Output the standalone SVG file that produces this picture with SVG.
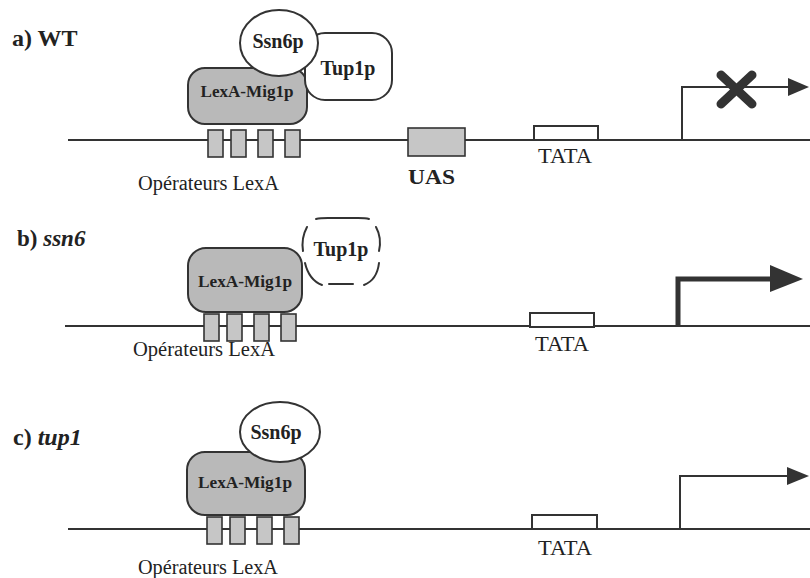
<svg xmlns="http://www.w3.org/2000/svg" width="810" height="578" viewBox="0 0 810 578">
<style>
text{font-family:"Liberation Serif","Times New Roman",serif;fill:#222}
.lbl{font-weight:bold;font-size:24px}
.it{font-style:italic}
.prot{font-weight:bold;font-size:20px;text-anchor:middle}
.lex{font-weight:bold;font-size:16px;text-anchor:middle}
.op{font-size:20px}
.tata{font-size:20px}
.dna{stroke:#333;stroke-width:2;fill:none}
.gray{fill:#b9b9b9;stroke:#333;stroke-width:2}
.opbox{fill:#c6c6c6;stroke:#333;stroke-width:1.6}
.white{fill:#fff;stroke:#333;stroke-width:2}
.dash{fill:none;stroke:#333;stroke-width:2;stroke-linecap:round}
.arr{fill:none;stroke:#333;stroke-width:2}
.arrh{fill:#333;stroke:none}
</style>
<rect width="810" height="578" fill="#fff"/>
<defs>
<g id="ops">
<rect x="0" y="0" width="15" height="27" class="opbox"/>
<rect x="23" y="0" width="15" height="27" class="opbox"/>
<rect x="50" y="0" width="15" height="27" class="opbox"/>
<rect x="77" y="0" width="15" height="27" class="opbox"/>
</g>
</defs>

<!-- Panel a -->
<g id="panel-a">
<text x="12" y="46" class="lbl">a) WT</text>
<g id="connectors-a">
<line x1="68" y1="140" x2="810" y2="140" class="dna"/>
<path d="M682,140 V87 H790" class="arr"/>
<polygon points="788,78 809,87 788,96" class="arrh"/>
<path d="M721,75 L752,104 M752,75 L721,104" stroke="#333" stroke-width="9" stroke-linecap="round"/>
</g>
<g id="a-lexa">
<rect x="188" y="68" width="119" height="56" rx="17" class="gray"/>
<text x="247" y="97" class="lex" textLength="93" lengthAdjust="spacingAndGlyphs">LexA-Mig1p</text>
</g>
<g id="a-tup1p">
<rect x="305" y="33" width="87" height="67" rx="20" class="white"/>
<text x="348" y="75" class="prot">Tup1p</text>
</g>
<g id="a-ssn6p">
<ellipse cx="279" cy="43" rx="39" ry="33" class="white"/>
<text x="278" y="48" class="prot">Ssn6p</text>
</g>
<g id="a-operators">
<use href="#ops" x="208" y="130"/>
<text x="138" y="190" class="op" textLength="141" lengthAdjust="spacingAndGlyphs">Opérateurs LexA</text>
</g>
<g id="a-uas">
<rect x="408" y="128" width="57" height="28" class="opbox"/>
<text x="408" y="184" style="font-weight:bold;font-size:21px" textLength="47" lengthAdjust="spacingAndGlyphs">UAS</text>
</g>
<g id="a-tata">
<rect x="534" y="126" width="64" height="14" class="white"/>
<text x="538" y="163" class="tata" textLength="54" lengthAdjust="spacingAndGlyphs">TATA</text>
</g>
</g>

<!-- Panel b -->
<g id="panel-b">
<text x="17" y="246" class="lbl" style="font-size:23px">b) <tspan class="it">ssn6</tspan></text>
<g id="connectors-b">
<line x1="65" y1="326" x2="810" y2="326" class="dna"/>
<path d="M678,326 V279 H772" fill="none" stroke="#333" stroke-width="5"/>
<polygon points="770,265 803,279 770,292" class="arrh"/>
</g>
<g id="b-tup1p">
<path d="M316,219 Q320,218 328,218 L358,218 Q366,218 369,219" class="dash"/>
<path d="M307,227 Q301,238 303,251" class="dash"/>
<path d="M305,263 Q309,280 322,285" class="dash"/>
<path d="M329,284 L353,284" class="dash"/>
<path d="M376,227 Q382,238 379,251" class="dash"/>
<path d="M379,263 Q377,280 364,285" class="dash"/>
<text x="341" y="256" class="prot">Tup1p</text>
</g>
<g id="b-lexa">
<rect x="188" y="248" width="114" height="64" rx="18" class="gray"/>
<text x="245" y="287" class="lex" textLength="94" lengthAdjust="spacingAndGlyphs">LexA-Mig1p</text>
</g>
<g id="b-operators">
<use href="#ops" x="204" y="314"/>
<text x="133" y="356" class="op" textLength="142" lengthAdjust="spacingAndGlyphs">Opérateurs LexA</text>
</g>
<g id="b-tata">
<rect x="530" y="313" width="64" height="14" class="white"/>
<text x="535" y="351" class="tata" textLength="54" lengthAdjust="spacingAndGlyphs">TATA</text>
</g>
</g>

<!-- Panel c -->
<g id="panel-c">
<text x="13" y="445" class="lbl">c) <tspan class="it">tup1</tspan></text>
<g id="connectors-c">
<line x1="68" y1="529" x2="810" y2="529" class="dna"/>
<path d="M680,529 V476 H789" class="arr"/>
<polygon points="787,467 809,476 787,485" class="arrh"/>
</g>
<g id="c-lexa">
<rect x="187" y="452" width="118" height="63" rx="18" class="gray"/>
<text x="245" y="488" class="lex" textLength="94" lengthAdjust="spacingAndGlyphs">LexA-Mig1p</text>
</g>
<g id="c-ssn6p">
<ellipse cx="280" cy="432" rx="40" ry="30" class="white"/>
<text x="276" y="439" class="prot">Ssn6p</text>
</g>
<g id="c-operators">
<use href="#ops" x="207" y="517"/>
<text x="138" y="574" class="op" textLength="140" lengthAdjust="spacingAndGlyphs">Opérateurs LexA</text>
</g>
<g id="c-tata">
<rect x="532" y="515" width="65" height="14" class="white"/>
<text x="538" y="555" class="tata" textLength="54" lengthAdjust="spacingAndGlyphs">TATA</text>
</g>
</g>
</svg>
